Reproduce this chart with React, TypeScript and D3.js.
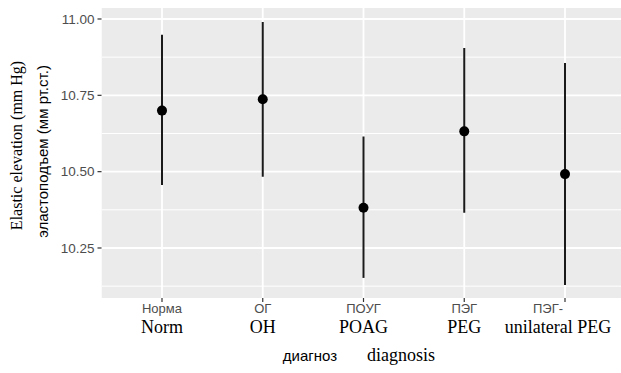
import React from "react";
import * as d3 from "d3";

// categories (Russian + English labels)
const labelsRu = ["Норма", "ОГ", "ПОУГ", "ПЭГ", "ПЭГ-"];
const labelsEn = ["Norm", "OH", "POAG", "PEG", "unilateral PEG"];
const means = [10.70, 10.737, 10.382, 10.632, 10.492];
const lows = [10.456, 10.483, 10.152, 10.365, 10.129];
const highs = [10.948, 10.99, 10.615, 10.905, 10.856];
const yTicks = [10.25, 10.5, 10.75, 11.0];
const yMinor = [10.125, 10.375, 10.625, 10.875];

const W = 621;
const H = 373;
const panel = { left: 101.5, right: 625.5, top: 8, bottom: 298 };

const serif = "'Liberation Serif', 'Times New Roman', serif";
const sans = "'Liberation Sans', Arial, sans-serif";

export default function App() {
  // discrete x with ggplot's 0.6 expansion
  const x = d3
    .scalePoint<string>()
    .domain(labelsEn)
    .range([panel.left + 60.5, panel.right - 60.5]);

  const y = d3
    .scaleLinear()
    .domain([10.0862, 11.036])
    .range([panel.bottom, panel.top]);

  const fmt = d3.format(".2f");

  return (
    <svg
      width={W}
      height={H}
      style={{ position: "absolute", left: 0, top: 0, background: "#fff" }}
    >
      <defs>
        <clipPath id="pclip">
          <rect x={panel.left} y={panel.top} width={W - panel.left} height={panel.bottom - panel.top} />
        </clipPath>
      </defs>
      <g clipPath="url(#pclip)">
        <rect
          x={panel.left}
          y={panel.top}
          width={panel.right - panel.left}
          height={panel.bottom - panel.top}
          fill="#EBEBEB"
        />
        {yMinor.map((v) => (
          <line key={"mn" + v} x1={panel.left} x2={panel.right} y1={y(v)} y2={y(v)} stroke="#fff" strokeWidth={1} />
        ))}
        {yTicks.map((v) => (
          <line key={"mj" + v} x1={panel.left} x2={panel.right} y1={y(v)} y2={y(v)} stroke="#fff" strokeWidth={1.8} />
        ))}
        {labelsEn.map((c) => (
          <line key={"vx" + c} x1={x(c)} x2={x(c)} y1={panel.top} y2={panel.bottom} stroke="#fff" strokeWidth={1.8} />
        ))}
        {labelsEn.map((c, i) => (
          <g key={"pt" + c}>
            <line x1={x(c)} x2={x(c)} y1={y(lows[i])} y2={y(highs[i])} stroke="#1a1a1a" strokeWidth={2} />
            <circle cx={x(c)} cy={y(means[i])} r={5} fill="#000" />
          </g>
        ))}
      </g>

      {/* y axis */}
      {yTicks.map((v) => (
        <g key={"yt" + v}>
          <line x1={panel.left - 4} x2={panel.left} y1={y(v)} y2={y(v)} stroke="#333" strokeWidth={1.2} />
          <text
            x={panel.left - 7}
            y={y(v)}
            dy="0.35em"
            textAnchor="end"
            fontFamily={sans}
            fontSize={13.5}
            fill="#4D4D4D"
          >
            {fmt(v)}
          </text>
        </g>
      ))}

      {/* x axis */}
      {labelsEn.map((c, i) => (
        <g key={"xt" + c}>
          <line x1={x(c)} x2={x(c)} y1={panel.bottom} y2={panel.bottom + 4} stroke="#333" strokeWidth={1.2} />
          <text
            x={(x(c) as number) + (i === 4 ? -17 : 0)}
            y={313}
            textAnchor="middle"
            fontFamily={sans}
            fontSize={13}
            fill="#4D4D4D"
          >
            {labelsRu[i]}
          </text>
          <text
            x={(x(c) as number) + (i === 4 ? -7 : 0)}
            y={333}
            textAnchor="middle"
            fontFamily={serif}
            fontSize={18}
            fill="#000"
          >
            {c}
          </text>
        </g>
      ))}

      {/* x title */}
      <text x={310} y={361} textAnchor="middle" fontFamily={sans} fontSize={15} fill="#000">
        диагноз
      </text>
      <text x={401} y={361} textAnchor="middle" fontFamily={serif} fontSize={18} fill="#000">
        diagnosis
      </text>

      {/* y titles */}
      <text
        transform={`translate(22, ${(y(10.5) + y(10.75)) / 2 + 12}) rotate(-90)`}
        textAnchor="middle"
        fontFamily={serif}
        fontSize={16}
        fill="#000"
      >
        Elastic elevation (mm Hg)
      </text>
      <text
        transform={`translate(48, ${(y(10.5) + y(10.75)) / 2 + 18}) rotate(-90)`}
        textAnchor="middle"
        fontFamily={sans}
        fontSize={15}
        fill="#000"
      >
        эластоподъем (мм рт.ст.)
      </text>
    </svg>
  );
}
